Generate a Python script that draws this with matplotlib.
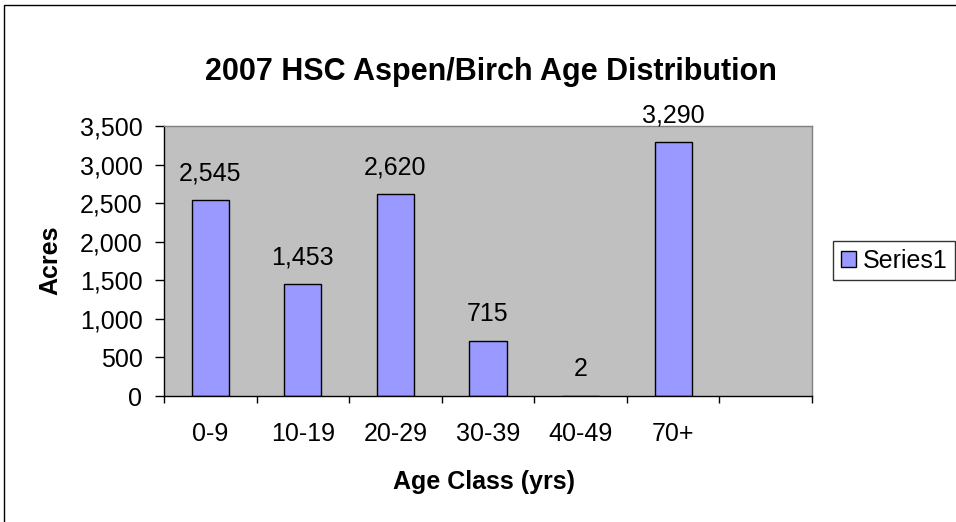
import matplotlib
matplotlib.use("Agg")
import matplotlib.pyplot as plt
from matplotlib.patches import Rectangle
from matplotlib.ticker import FuncFormatter

# data
age_classes = ["0-9", "10-19", "20-29", "30-39", "40-49", "70+"]
acres = [2545, 1453, 2620, 715, 2, 3290]
n_slots = 7  # Excel left an empty category at the end
y_ticks = [0, 500, 1000, 1500, 2000, 2500, 3000, 3500]

plt.rcParams['font.family'] = ['Liberation Sans', 'DejaVu Sans']

W, H = 956, 522
fig = plt.figure(figsize=(W/100, H/100), dpi=100)

# outer chart border, cropped at right and bottom
fig.patches.append(Rectangle((4/W, -0.05), 1.0, (H-5)/H + 0.05,
                             transform=fig.transFigure, fill=False,
                             edgecolor='black', linewidth=1.0))

ax = fig.add_axes([164/W, (H-396)/H, (812-164)/W, (396-126)/H])
ax.set_facecolor('#C0C0C0')

x = [i + 0.5 for i in range(len(acres))]
ax.bar(x, acres, width=0.4, color='#9999FF', edgecolor='black',
       linewidth=1.0, label='Series1', zorder=2)

for xi, v in zip(x, acres):
    ax.annotate("{:,}".format(v), (xi, v), xytext=(0, 14),
                textcoords='offset points', ha='center', va='baseline',
                fontsize=18)

ax.set_xlim(0, n_slots)
ax.set_ylim(0, 3500)
ax.set_yticks(y_ticks)
ax.yaxis.set_major_formatter(FuncFormatter(lambda v, p: "{:,}".format(int(v))))
ax.tick_params(axis='y', direction='out', length=6.5, width=1, pad=9,
               labelsize=18)

ax.set_xticks(range(n_slots + 1))
ax.set_xticklabels([])
ax.set_xticks(x, minor=True)
ax.set_xticklabels(age_classes, minor=True)
ax.tick_params(axis='x', which='major', direction='out', length=5, width=1)
ax.tick_params(axis='x', which='minor', length=0, pad=19, labelsize=18)

for s in ['left', 'bottom']:
    ax.spines[s].set_color('black')
    ax.spines[s].set_linewidth(1.0)
for s in ['top', 'right']:
    ax.spines[s].set_color('#808080')
    ax.spines[s].set_linewidth(1.0)

fig.text(491/W, 1 - 72/H, "2007 HSC Aspen/Birch Age Distribution",
         ha='center', va='center', fontsize=22, fontweight='bold')
fig.text(50/W, 1 - 260/H, "Acres", ha='center', va='center',
         rotation=90, fontsize=18, fontweight='bold')
fig.text(484/W, 1 - 482/H, "Age Class (yrs)", ha='center', va='center',
         fontsize=18, fontweight='bold')

leg = fig.legend(loc='upper left', bbox_to_anchor=(833/W, 1 - 241/H),
                 fontsize=18, frameon=True, fancybox=False,
                 handlelength=0.6, handleheight=0.6, handletextpad=0.3,
                 borderpad=0.3, borderaxespad=0)
leg.get_frame().set_edgecolor('black')
leg.get_frame().set_linewidth(1.0)

fig.savefig("out.png", dpi=100)
